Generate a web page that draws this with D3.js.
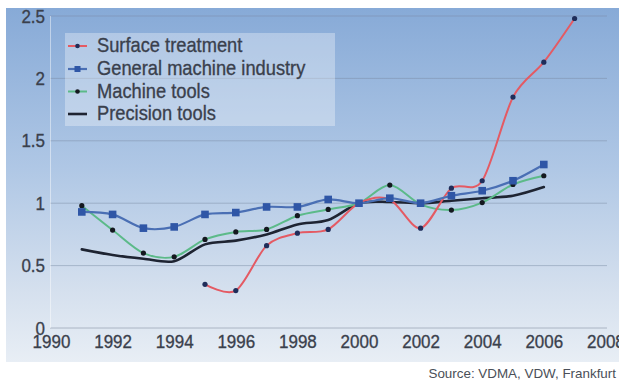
<!DOCTYPE html>
<html>
<head>
<meta charset="utf-8">
<script src="https://cdn.jsdelivr.net/npm/d3@7"></script>
<style>
  html, body { margin: 0; padding: 0; background: #ffffff; }
  svg { display: block; }
</style>
</head>
<body>
<svg id="chart" width="619" height="382"></svg>
<script>
// Index values (2000 = 1)
const surfaceYears = [1995, 1996, 1997, 1998, 1999, 2000, 2001, 2002, 2003, 2004, 2005, 2006, 2007];
const surfaceTreatment = [0.35, 0.30, 0.66, 0.76, 0.79, 1.00, 1.03, 0.80, 1.12, 1.18, 1.85, 2.13, 2.48];

const years = [1991, 1992, 1993, 1994, 1995, 1996, 1997, 1998, 1999, 2000, 2001, 2002, 2003, 2004, 2005, 2006];
const generalMachine = [0.93, 0.91, 0.80, 0.81, 0.91, 0.925, 0.97, 0.97, 1.03, 1.00, 1.04, 1.00, 1.06, 1.10, 1.18, 1.31];
const machineTools   = [0.98, 0.785, 0.60, 0.57, 0.71, 0.77, 0.79, 0.90, 0.95, 1.00, 1.145, 0.99, 0.945, 1.005, 1.15, 1.22];
const precisionTools = [0.63, 0.585, 0.555, 0.535, 0.67, 0.70, 0.75, 0.83, 0.865, 1.00, 1.01, 1.00, 1.02, 1.04, 1.06, 1.13];

const xTicks = [1990, 1992, 1994, 1996, 1998, 2000, 2002, 2004, 2006, 2008];
const yTicks = [0, 0.5, 1, 1.5, 2, 2.5];
const yTickLabels = ["0", "0.5", "1", "1.5", "2", "2.5"];

const legendLabels = ["Surface treatment", "General machine industry", "Machine tools", "Precision tools"];
const sourceNote = "Source: VDMA, VDW, Frankfurt";

const svg = d3.select("#chart");
const W = 619, H = 382;

const x = d3.scaleLinear().domain([1990, 2008]).range([51, 605.4]);
const y = d3.scaleLinear().domain([0, 2.5]).range([328, 16]);

// background panel with vertical gradient
const defs = svg.append("defs");
const grad = defs.append("linearGradient").attr("id", "bg").attr("x1", 0).attr("y1", 0).attr("x2", 0).attr("y2", 1);
grad.append("stop").attr("offset", 0).attr("stop-color", "#87aad7");
grad.append("stop").attr("offset", 0.45).attr("stop-color", "#afc7e5");
grad.append("stop").attr("offset", 0.8).attr("stop-color", "#d5e0ee");
grad.append("stop").attr("offset", 1).attr("stop-color", "#e8eef5");

svg.append("rect").attr("x", 6).attr("y", 8).attr("width", W - 6).attr("height", 354).attr("fill", "url(#bg)");

// gridlines
svg.append("g").selectAll("line").data(yTicks).join("line")
  .attr("x1", 50).attr("x2", 607)
  .attr("y1", d => y(d)).attr("y2", d => y(d))
  .attr("stroke", d => d === 0 ? "rgba(150,160,178,0.7)" : "rgba(120,135,160,0.45)")
  .attr("stroke-width", 1);

// y axis line
svg.append("line").attr("x1", 50.5).attr("x2", 50.5).attr("y1", y(2.5)).attr("y2", y(0))
  .attr("stroke", "rgba(255,255,255,0.45)").attr("stroke-width", 1);

const textColor = "#3a404c";
const stretch = 1.12;

function styleLabel(sel, size) {
  sel.attr("font-family", "Liberation Sans, Arial, sans-serif")
    .attr("font-size", size)
    .attr("fill", textColor)
    .attr("stroke", textColor)
    .attr("stroke-width", 0.3);
}

// x axis
const xAxis = svg.append("g").attr("transform", `translate(0,${y(0)})`)
  .call(d3.axisBottom(x).tickValues(xTicks).tickFormat(d3.format("d")).tickSize(0));
xAxis.select(".domain").remove();
xAxis.selectAll("text")
  .call(styleLabel, 17)
  .attr("dy", 0)
  .attr("y", 20 / stretch)
  .attr("transform", `scale(1,${stretch})`);

// y axis
const yAxis = svg.append("g").attr("transform", "translate(45,0)")
  .call(d3.axisLeft(y).tickValues(yTicks).tickFormat((d, i) => yTickLabels[i]).tickSize(0).tickPadding(0));
yAxis.select(".domain").remove();
yAxis.selectAll("text")
  .call(styleLabel, 17)
  .attr("transform", `scale(1,${stretch})`);

// series
const curve = d3.curveCardinal.tension(0.1);
const line = d3.line().x(d => x(d[0])).y(d => y(d[1])).curve(curve);

const zip = (xs, vs) => xs.map((v, i) => [v, vs[i]]);

const series = [
  { name: legendLabels[0], pts: zip(surfaceYears, surfaceTreatment), color: "#e45a63", width: 2, marker: "dot", markerColor: "#1f2d5a" },
  { name: legendLabels[1], pts: zip(years, generalMachine), color: "#4a6fb4", width: 2.2, marker: "square", markerColor: "#2f56a6" },
  { name: legendLabels[2], pts: zip(years, machineTools), color: "#5cba89", width: 2, marker: "dot", markerColor: "#14181f" },
  { name: legendLabels[3], pts: zip(years, precisionTools), color: "#1e2432", width: 2.6, marker: null }
];

// draw order: precision, machine tools, surface, general on top
const order = [3, 2, 0, 1];
const plot = svg.append("g");
order.forEach(k => {
  const s = series[k];
  plot.append("path").datum(s.pts)
    .attr("d", line).attr("fill", "none")
    .attr("stroke", s.color).attr("stroke-width", s.width)
    .attr("stroke-linejoin", "round").attr("stroke-linecap", "round");
});
order.forEach(k => {
  const s = series[k];
  if (s.marker === "dot") {
    plot.append("g").selectAll("circle").data(s.pts).join("circle")
      .attr("cx", d => x(d[0])).attr("cy", d => y(d[1])).attr("r", 2.6)
      .attr("fill", s.markerColor);
  } else if (s.marker === "square") {
    plot.append("g").selectAll("rect").data(s.pts).join("rect")
      .attr("x", d => x(d[0]) - 3.8).attr("y", d => y(d[1]) - 3.8)
      .attr("width", 7.6).attr("height", 7.6)
      .attr("fill", s.markerColor);
  }
});

// legend
const lg = svg.append("g");
lg.append("rect").attr("x", 65).attr("y", 33).attr("width", 270).attr("height", 93)
  .attr("fill", "rgba(255,255,255,0.32)");
const rowY = [46, 69, 91.5, 114];
series.forEach((s, i) => {
  const gy = rowY[i];
  lg.append("line").attr("x1", 68).attr("x2", 87).attr("y1", gy).attr("y2", gy)
    .attr("stroke", s.color).attr("stroke-width", s.width);
  if (s.marker === "dot") {
    lg.append("circle").attr("cx", 77.5).attr("cy", gy).attr("r", 2.3).attr("fill", s.markerColor);
  } else if (s.marker === "square") {
    lg.append("rect").attr("x", 74.5).attr("y", gy - 3).attr("width", 6).attr("height", 6).attr("fill", s.markerColor);
  }
  lg.append("text")
    .attr("x", 97).attr("y", (gy + 6.5) / 1.08)
    .attr("transform", "scale(1,1.08)")
    .call(styleLabel, 18.3)
    .text(s.name);
});

// source note
svg.append("text")
  .attr("x", 616).attr("y", 378)
  .attr("text-anchor", "end")
  .attr("font-family", "Liberation Sans, Arial, sans-serif")
  .attr("font-size", 13.4)
  .attr("fill", "#4a4f58")
  .text(sourceNote);
</script>
</body>
</html>
